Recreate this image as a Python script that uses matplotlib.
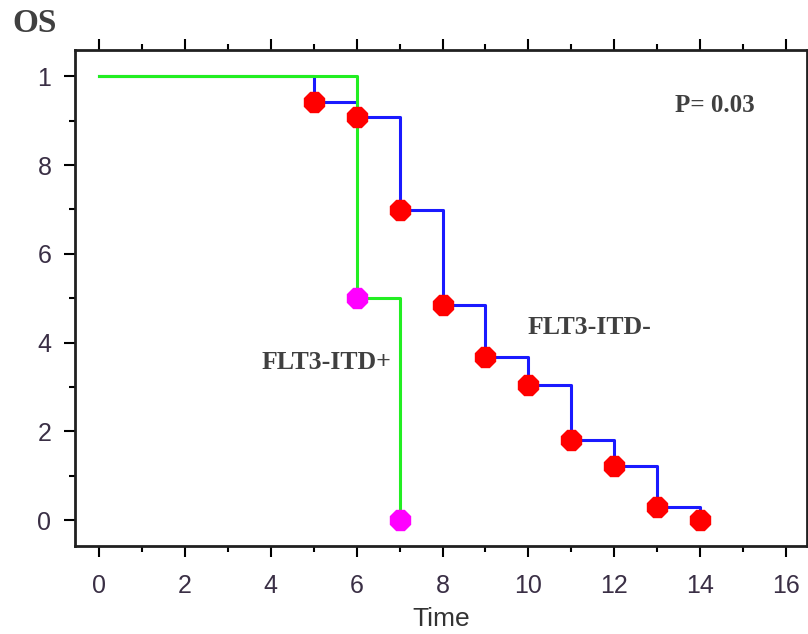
import matplotlib
matplotlib.use("Agg")
import matplotlib.pyplot as plt
from matplotlib.ticker import MultipleLocator

# Data
neg_time = [0, 5, 6, 7, 8, 9, 10, 11, 12, 13, 14]
neg_surv = [1.0, 0.941, 0.908, 0.698, 0.484, 0.367, 0.304, 0.180, 0.122, 0.029, 0.0]
neg_mark_time = [5, 6, 7, 8, 9, 10, 11, 12, 13, 14]
neg_mark_surv = [0.941, 0.908, 0.698, 0.484, 0.367, 0.304, 0.180, 0.122, 0.029, 0.0]

pos_time = [0, 6, 7]
pos_surv = [1.0, 0.5, 0.0]
pos_mark_time = [6, 7]
pos_mark_surv = [0.5, 0.0]

xticks = [0, 2, 4, 6, 8, 10, 12, 14, 16]
yticks = [0, 0.2, 0.4, 0.6, 0.8, 1.0]
ytick_labels = ["0", "2", "4", "6", "8", "1"]

fig = plt.figure(figsize=(8.08, 6.34), dpi=100)
ax = fig.add_axes([75/808, 1-546/634, (807-75)/808, (546-50)/634])

ax.step(neg_time, neg_surv, where="post", color="#1a1aff", lw=2.2, zorder=2)
ax.step(pos_time, pos_surv, where="post", color="#22ee22", lw=2.2, zorder=3)
ax.plot(neg_mark_time, neg_mark_surv, ls="none", marker="8", ms=15.5, color="#ff0000",
        mec="#ff0000", zorder=4)
ax.plot(pos_mark_time, pos_mark_surv, ls="none", marker="8", ms=15.5, color="#ff00ff",
        mec="#ff00ff", zorder=4)

ax.set_xlim(-0.56, 16.49)
ax.set_ylim(-0.058, 1.059)

ax.set_xticks(xticks)
ax.xaxis.set_minor_locator(MultipleLocator(1))
ax.set_yticks(yticks)
ax.set_yticklabels(ytick_labels)
ax.yaxis.set_minor_locator(MultipleLocator(0.1))

ax.tick_params(axis="both", which="major", direction="out", length=8, width=1.5,
               labelsize=18, colors="black")
ax.tick_params(axis="both", which="minor", direction="out", length=4, width=1.5)
ax.tick_params(axis="x", which="both", top=True, pad=12)
ax.tick_params(axis="y", which="both", right=True, pad=9)
for lab in ax.get_xticklabels() + ax.get_yticklabels():
    lab.set_fontfamily("Liberation Sans")
    lab.set_color("#3a2f45")
for sp in ax.spines.values():
    sp.set_linewidth(2)
    sp.set_color("#202020")

ax.set_xlabel("Time", fontsize=19, family="Liberation Sans", color="#333333", labelpad=7)

serif = "Liberation Serif"
fig.text(12/808, 1-24/634, "OS", fontsize=24, fontweight="bold", family=serif,
         color="#404040", va="center", ha="left")
ax.text(13.42, 0.935, "P= 0.03", fontsize=18, fontweight="bold", family=serif,
        color="#404040", va="center", ha="left")
ax.text(3.79, 0.356, "FLT3-ITD+", fontsize=18.5, fontweight="bold", family=serif,
        color="#404040", va="center", ha="left")
ax.text(9.97, 0.435, "FLT3-ITD-", fontsize=18.5, fontweight="bold", family=serif,
        color="#404040", va="center", ha="left")

fig.savefig("out.png", dpi=100)
